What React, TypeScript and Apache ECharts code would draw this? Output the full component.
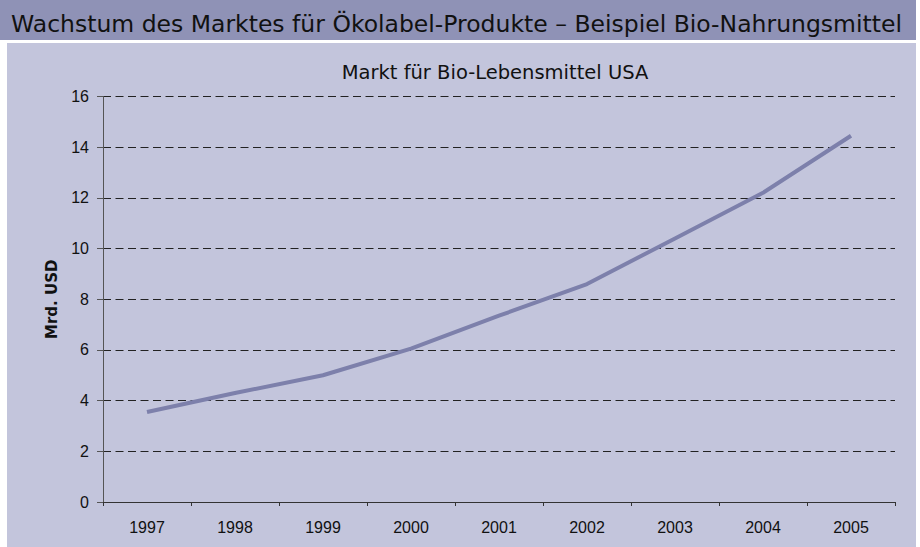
import React, { useEffect, useRef } from "react";
import * as echarts from "echarts";

const years = ["1997", "1998", "1999", "2000", "2001", "2002", "2003", "2004", "2005"];
const marketValues = [3.55, 4.3, 5.0, 6.05, 7.35, 8.6, 10.4, 12.2, 14.45];
const yTicks = { min: 0, max: 16, interval: 2 };
const mainTitle = "Wachstum des Marktes für Ökolabel-Produkte – Beispiel Bio-Nahrungsmittel";
const chartTitle = "Markt für Bio-Lebensmittel USA";
const yAxisName = "Mrd. USD";

export default function App() {
  const ref = useRef<HTMLDivElement>(null);
  useEffect(() => {
    if (!ref.current) return;
    const chart = echarts.init(ref.current, null, { renderer: "svg" });
    chart.setOption({
      animation: false,
      backgroundColor: "#ffffff",
      graphic: [
        { type: "rect", z: -10, shape: { x: 0, y: 0, width: 916, height: 40 }, style: { fill: "#8f92b6" } },
        { type: "rect", z: -10, shape: { x: 7, y: 43, width: 909, height: 504 }, style: { fill: "#c3c5dc" } },
      ],
      title: [
        {
          text: mainTitle,
          left: 6,
          top: 7,
          textStyle: { fontFamily: "DejaVu Sans", fontSize: 23.5, fontWeight: "normal", color: "#111" },
        },
        {
          text: chartTitle,
          left: 490,
          textAlign: "center",
          top: 57,
          textStyle: { fontFamily: "DejaVu Sans", fontSize: 19.5, fontWeight: "normal", color: "#111" },
        },
      ],
      grid: { left: 103, right: 25, top: 96.5, bottom: 45 },
      xAxis: {
        type: "category",
        data: years,
        boundaryGap: true,
        axisLine: { lineStyle: { color: "#333", width: 1 } },
        axisTick: { show: true, length: 4, lineStyle: { color: "#333" } },
        axisLabel: { fontFamily: "Liberation Sans", fontSize: 16, color: "#111", margin: 17 },
      },
      yAxis: {
        type: "value",
        min: yTicks.min,
        max: yTicks.max,
        interval: yTicks.interval,
        name: yAxisName,
        nameLocation: "middle",
        nameRotate: 90,
        nameGap: 44,
        nameTextStyle: { fontFamily: "DejaVu Sans", fontSize: 15, fontWeight: "bold", color: "#111" },
        axisLine: { show: true, lineStyle: { color: "#555", width: 1 } },
        axisTick: { show: true, length: 6, lineStyle: { color: "#555" } },
        axisLabel: { fontFamily: "Liberation Sans", fontSize: 16, color: "#111", margin: 14 },
        splitLine: { show: true, lineStyle: { color: "#222", type: [8, 4.5], width: 1 } },
      },
      series: [
        {
          type: "line",
          data: marketValues,
          symbol: "none",
          lineStyle: { color: "#7d80ab", width: 4 },
          itemStyle: { color: "#7d80ab" },
        },
      ],
    });
    return () => chart.dispose();
  }, []);
  return <div ref={ref} style={{ position: "fixed", left: 0, top: 0, width: 920, height: 547 }} />;
}
